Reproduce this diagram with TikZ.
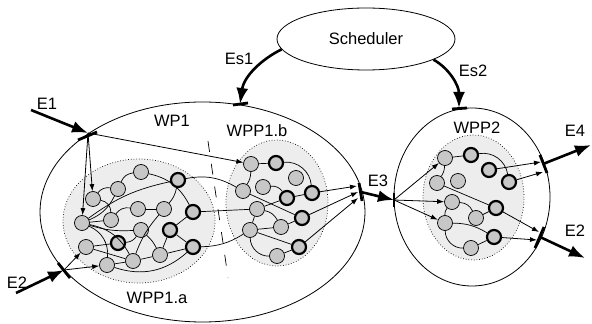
\documentclass[tikz,border=0pt]{standalone}
\usepackage{fontspec}
\setmainfont{Liberation Sans}
\usetikzlibrary{shapes.geometric,arrows.meta,positioning}

\begin{document}
\begin{tikzpicture}[x=1pt,y=1pt,
    font=\fontsize{16.5}{19}\selectfont,
    proc/.style={ellipse,draw,inner sep=0pt,line width=0.8pt},
    pool/.style={ellipse,draw,dotted,fill=black!7,inner sep=0pt,line width=0.7pt},
    task/.style={circle,draw,fill=black!22,inner sep=0pt,minimum size=15pt,line width=0.7pt},
    hot/.style={task,line width=2.2pt,minimum size=14pt},
    link/.style={line width=0.7pt},
    flow/.style={line width=0.8pt,-{Latex[length=7pt,width=5pt]}},
    event/.style={line width=2.6pt,-{Latex[length=16pt,width=12pt]}},
    bar/.style={line width=2.8pt}]

  \useasboundingbox (0,0) rectangle (592,324);

  \node (sched) [proc,minimum width=178pt,minimum height=62pt] at (366,285) {Scheduler};
  \node (wp1) [proc,minimum width=325pt,minimum height=220pt] at (202.5,112) {};
  \node (wp2) [proc,minimum width=156pt,minimum height=178pt] at (472,127) {};

  \node (wpp1a) [pool,minimum width=152pt,minimum height=124pt] at (139,103) {};
  \node (wpp1b) [pool,minimum width=102pt,minimum height=126pt] at (277,121) {};
  \node (wpp2) [pool,minimum width=101pt,minimum height=125pt] at (473.5,126.5) {};

  \node (wp1lbl) at (172,203) {WP1};
  \node (wpp1albl) [below=9pt of wpp1a,xshift=18pt,inner sep=0pt] {WPP1.a};
  \node (wpp1blbl) [above=3pt of wpp1b,xshift=-20pt,inner sep=0pt] {WPP1.b};
  \node (wpp2lbl) [above=1pt of wpp2,xshift=3.5pt,inner sep=0pt] {WPP2};

  \node (es1lbl) at (239,265) {Es1};
  \node (es2lbl) at (473,253) {Es2};
  \node (e1lbl) at (47,220) {E1};
  \node (e2lbl) at (17,41) {E2};
  \node (e3lbl) at (378,143) {E3};
  \node (e4lbl) at (575,193) {E4};
  \node (e2rlbl) at (575,93) {E2};

  \draw [link,dash pattern=on 11pt off 12pt]
  (208,183) .. controls (214,140) and (222,90) .. (228,46);

  % WPP1.a
  \node (n1) [task] at (93,125) {};
  \node (n2) [task] at (118,135) {};
  \node (n3) [task] at (141,152) {};
  \node (n4) [hot] at (178,144) {};
  \node (n5) [task] at (82,101) {};
  \node (n6) [task] at (111,104) {};
  \node (n7) [task] at (138,115) {};
  \node (n8) [task] at (164,115) {};
  \node (n9) [hot] at (193,112) {};
  \node (n10) [task] at (141,94) {};
  \node (n11) [hot] at (170,94) {};
  \node (n12) [task] at (86,77) {};
  \node (n13) [hot] at (118,81) {};
  \node (n14) [hot] at (193,77) {};
  \node (n15) [task] at (107,59) {};
  \node (n16) [task] at (133,63) {};
  \node (n17) [task] at (160,69) {};

  % WPP1.b
  \node (b1) [task] at (251,160) {};
  \node (b2) [hot] at (276,161) {};
  \node (b3) [task] at (296,146) {};
  \node (b4) [task] at (243,133) {};
  \node (b5) [task] at (263,137) {};
  \node (b6) [hot] at (287,126) {};
  \node (b7) [hot] at (312,131) {};
  \node (b8) [task] at (257,115) {};
  \node (b9) [hot] at (302,106) {};
  \node (b10) [task] at (250,94) {};
  \node (b11) [task] at (281,97) {};
  \node (b12) [hot] at (299,77) {};
  \node (b13) [task] at (277,68) {};

  % WPP2
  \node (c1) [task] at (445,166) {};
  \node (c2) [hot] at (471,169) {};
  \node (c3) [hot] at (489,154) {};
  \node (c4) [hot] at (509,142) {};
  \node (c5) [task] at (437,141) {};
  \node (c6) [task] at (458,143) {};
  \node (c7) [task] at (452,122) {};
  \node (c8) [hot] at (496,116) {};
  \node (c9) [task] at (445,101) {};
  \node (c10) [task] at (476,106) {};
  \node (c11) [hot] at (494,87) {};
  \node (c12) [task] at (471,76) {};

  % ports on the process borders
  \coordinate (e1in) at (88,191);
  \coordinate (e2in) at (64,54);
  \coordinate (e3out) at (361,132);
  \coordinate (e3in) at (394,124);
  \coordinate (s1in) at (240,220);
  \coordinate (s2in) at (459,216);
  \coordinate (e4out) at (543,160);
  \coordinate (e2out) at (540,87);

  \coordinate (e1src) at (31,214);
  \coordinate (e2src) at (16,31);
  \coordinate (e4dst) at (591,179);
  \coordinate (e2dst) at (585,66);

  \coordinate (e3a) at (357,138);
  \coordinate (e3b) at (358,132);
  \coordinate (e3c) at (358,126);
  \coordinate (e4a) at (541,162);
  \coordinate (e4b) at (543,152);
  \coordinate (e2a) at (539,92);
  \coordinate (e2b) at (537,84);

  \draw [bar] ([shift={(-10,-7)}]e1in) -- ([shift={(9,1)}]e1in);
  \draw [bar] ([shift={(-6,7)}]e2in) -- ([shift={(6,-8)}]e2in);
  \draw [bar] ([shift={(-7,-1)}]s1in) -- ([shift={(8,1)}]s1in);
  \draw [bar] ([shift={(-7,-1)}]s2in) -- ([shift={(8,0)}]s2in);
  \draw [bar] ([shift={(0,7)}]e3in) -- ([shift={(0,-7)}]e3in);
  \draw [bar] ([shift={(-2,9)}]e3out) -- ([shift={(1,-9)}]e3out);
  \draw [bar] ([shift={(-3,9)}]e4out) -- ([shift={(4,-9)}]e4out);
  \draw [bar] ([shift={(4,10)}]e2out) -- ([shift={(-5,-11)}]e2out);

  \draw [link] (n1) to[bend left=30] (n2);
  \draw [link] (n2) to[bend left=30] (n3);
  \draw [link] (n3) to[bend left=25] (n9);
  \draw [link] (n1) to[bend left=40] (n6);
  \draw [link] (n5) to[bend right=20] (n2);
  \draw [link] (n5) to[bend left=12] (n4);
  \draw [link] (n5) -- (n6);
  \draw [link] (n5) to[bend right=10] (n10);
  \draw [link] (n5) to[bend left=35] (n15);
  \draw [link] (n5) to[bend left=25] (n16);
  \draw [link] (n6) to[bend left=30] (n7);
  \draw [link] (n12) -- (n13);
  \draw [link] (n12) -- (n16);
  \draw [link] (n15) -- (n16);
  \draw [link] (n16) -- (n17);
  \draw [link] (n17) -- (n14);
  \draw [link] (n15) to[bend right=30] (n14);
  \draw [link] (n7) -- (n8);
  \draw [link] (n4) to[bend left=15] (n8);
  \draw [link] (n8) to[bend right=10] (n16);
  \draw [link] (n11) -- (n9);
  \draw [link] (n11) -- (n14);
  \draw [link] (n11) -- (n17);
  \draw [link] (n13) to[bend right=25] (n10);
  \draw [link] (n10) to[bend left=10] (n17);

  \draw [link] (n9) -- (b8);
  \draw [link] (n14) to[bend right=15] (b10);
  \draw [link] (n4) to[bend left=20] (b4);

  \draw [link] (b1) -- (b2);
  \draw [link] (b2) to[bend left=45] (b7);
  \draw [link] (b1) to[bend left=15] (b4);
  \draw [link] (b4) -- (b9);
  \draw [link] (b5) to[bend left=30] (b6);
  \draw [link] (b6) -- (b7);
  \draw [link] (b8) -- (b6);
  \draw [link] (b8) to[bend left=25] (b11);
  \draw [link] (b10) -- (b8);
  \draw [link] (b10) -- (b12);
  \draw [link] (b10) to[bend right=45] (b13);
  \draw [link] (b13) -- (b12);
  \draw [link] (b11) -- (b9);
  \draw [link] (b10) -- (b11);

  \draw [link] (c1) -- (c2);
  \draw [link] (c2) to[bend left=45] (c4);
  \draw [link] (c1) to[bend left=15] (c5);
  \draw [link] (c5) -- (c8);
  \draw [link] (c7) to[bend left=30] (c10);
  \draw [link] (c7) to[bend right=20] (c9);
  \draw [link] (c10) -- (c8);
  \draw [link] (c9) to[bend left=15] (c11);
  \draw [link] (c9) to[bend right=45] (c12);
  \draw [link] (c12) -- (c11);

  \draw [flow] (e1in) -- (n1);
  \draw [flow] (e1in) -- (n5);
  \draw [flow] (e1in) -- (b1);
  \draw [flow] (e2in) -- (n12);
  \draw [flow] (e2in) -- (n15);
  \draw [flow] (b7) -- (e3a);
  \draw [flow] (b9) -- (e3b);
  \draw [flow] (b12) -- (e3c);
  \draw [flow] (e3in) -- (c1);
  \draw [flow] (e3in) -- (c7);
  \draw [flow] (e3in) -- (c9);
  \draw [flow] (c3) -- (e4a);
  \draw [flow] (c4) -- (e4b);
  \draw [flow] (c8) -- (e2a);
  \draw [flow] (c11) -- (e2b);

  \draw [event] (e1src) -- (e1in);
  \draw [event] (e2src) -- (e2in);
  \draw [event] (e3out) -- (e3in);
  \draw [event] (e4out) -- (e4dst);
  \draw [event] (e2out) -- (e2dst);
  \draw [event] (sched.187) .. controls (262,265) and (244,248) .. (s1in);
  \draw [event] (sched.343) .. controls (450,255) and (459,238) .. (s2in);

\end{tikzpicture}
\end{document}
